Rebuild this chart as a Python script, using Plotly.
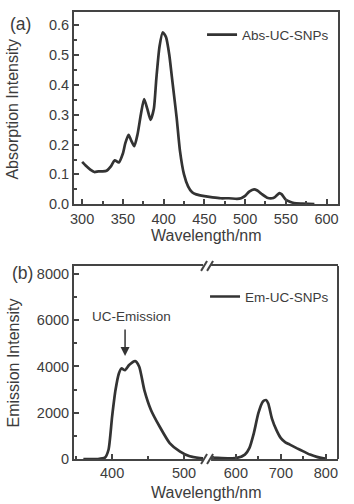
import plotly.graph_objects as go

# ---- Data: panel (a) absorption ----
abs_wl = [300, 305, 310, 315, 320, 325, 330, 335, 340, 345, 350, 353, 357, 360, 364, 368,
          372, 376, 380, 384, 388, 391, 395, 399, 403, 407, 410, 413, 416, 420, 425, 430,
          435, 440, 450, 460, 470, 480, 490, 495, 500, 505, 511, 515, 520, 527, 533, 537,
          542, 545, 550, 555, 560, 570, 585]
abs_val = [0.142, 0.128, 0.116, 0.108, 0.110, 0.110, 0.112, 0.126, 0.147, 0.140, 0.170, 0.205,
           0.233, 0.215, 0.195, 0.235, 0.300, 0.353, 0.320, 0.283, 0.320, 0.420, 0.530, 0.577,
           0.560, 0.500, 0.430, 0.360, 0.290, 0.180, 0.100, 0.060, 0.040, 0.033, 0.027, 0.023,
           0.020, 0.020, 0.018, 0.020, 0.028, 0.042, 0.050, 0.046, 0.035, 0.022, 0.020, 0.025,
           0.037, 0.033, 0.015, 0.008, 0.004, 0.002, 0.000]

# ---- Data: panel (b) emission (broken x axis) ----
em_left_wl = [360, 380, 390, 395, 400, 404.7, 409.4, 413, 418, 423.6, 432, 437.7, 444.8,
              454, 466, 480, 494, 508, 522, 532]
em_left_val = [0, 0, 60, 400, 1835, 2980, 3700, 3915, 3840, 4060, 4230, 3990, 2980,
               2120, 1405, 690, 330, 115, 43, 20]
em_right_wl = [536, 560, 600, 620, 630, 640, 650, 660, 667, 672, 680, 690, 700, 710, 720,
               735, 750, 765, 780, 795, 800]
em_right_val = [60, 50, 40, 190, 470, 1120, 1980, 2480, 2550, 2400, 1760, 1260, 900, 720,
                620, 470, 330, 190, 90, 30, 20]

abs_x_ticks = [300, 350, 400, 450, 500, 550, 600]
abs_y_ticks = [0.0, 0.1, 0.2, 0.3, 0.4, 0.5, 0.6]
em_y_ticks = [0, 2000, 4000, 6000, 8000]
em_left_ticks = [400, 500]
em_right_ticks = [600, 700, 800]

TXT = "#3c3c3c"
AX = "#444444"
LINE = "#333333"
FONT = "Liberation Sans, Arial, sans-serif"

fig = go.Figure()
fig.add_trace(go.Scatter(x=abs_wl, y=abs_val, mode="lines", name="Abs-UC-SNPs",
                         line=dict(color=LINE, width=2.7, shape="spline", smoothing=0.6),
                         xaxis="x", yaxis="y", legend="legend"))
fig.add_trace(go.Scatter(x=em_left_wl, y=em_left_val, mode="lines", name="Em-UC-SNPs",
                         line=dict(color=LINE, width=2.7, shape="spline", smoothing=0.6),
                         xaxis="x2", yaxis="y2", legend="legend2"))
fig.add_trace(go.Scatter(x=em_right_wl, y=em_right_val, mode="lines", name="Em-UC-SNPs",
                         line=dict(color=LINE, width=2.7, shape="spline", smoothing=0.6),
                         xaxis="x3", yaxis="y2", showlegend=False))

common = dict(showline=True, linecolor=AX, linewidth=2, ticks="inside", ticklen=5,
              tickwidth=1.5, tickcolor=AX, showgrid=False, zeroline=False,
              tickfont=dict(family=FONT, size=14.5, color=TXT))

Y_A = [0.570, 1.0]
Y_B = [0.0, 0.432]
BRK = 0.504

fig.update_layout(
    width=354, height=504,
    margin=dict(l=74, r=16, t=10, b=45),
    paper_bgcolor="white", plot_bgcolor="white",
    font=dict(family=FONT, color=TXT),
    xaxis=dict(domain=[0, 1], anchor="y", range=[290, 614], tickvals=abs_x_ticks,
               mirror=True, minor=dict(ticks="inside", ticklen=3, tickwidth=1.5,
                                       tickcolor=AX, dtick=25, tick0=300), **common),
    yaxis=dict(domain=Y_A, anchor="x", range=[0, 0.645], tickvals=abs_y_ticks,
               tickformat=".1f", mirror=True,
               minor=dict(ticks="inside", ticklen=3, tickwidth=1.5, tickcolor=AX,
                          dtick=0.05, tick0=0), **common),
    xaxis2=dict(domain=[0, BRK], anchor="y2", range=[347, 532], tickvals=em_left_ticks,
                mirror=True, minor=dict(ticks="inside", ticklen=3, tickwidth=1.5,
                                        tickcolor=AX, dtick=50, tick0=400), **common),
    xaxis3=dict(domain=[BRK, 1], anchor="y2", range=[536, 827], tickvals=em_right_ticks,
                mirror=True, minor=dict(ticks="inside", ticklen=3, tickwidth=1.5,
                                        tickcolor=AX, dtick=50, tick0=600), **common),
    yaxis2=dict(domain=Y_B, anchor="x2", range=[0, 8350], tickvals=em_y_ticks,
                minor=dict(ticks="inside", ticklen=3, tickwidth=1.5, tickcolor=AX,
                           dtick=1000, tick0=0), **common),
    legend=dict(x=0.985, y=0.949, xanchor="right", yanchor="middle",
                bgcolor="rgba(0,0,0,0)", font=dict(family=FONT, size=13.5, color=TXT)),
    legend2=dict(x=0.985, y=0.363, xanchor="right", yanchor="middle",
                 bgcolor="rgba(0,0,0,0)", font=dict(family=FONT, size=13.5, color=TXT)),
)

px_x = 1 / 264.0
px_y = 1 / 449.0
shapes = [
    # right border of panel (b)
    dict(type="line", xref="paper", yref="paper", x0=1, x1=1, y0=Y_B[0], y1=Y_B[1],
         line=dict(color=AX, width=2)),
]
for yb in (Y_B[0], Y_B[1]):
    shapes.append(dict(type="rect", xref="paper", yref="paper",
                       x0=BRK - 4 * px_x, x1=BRK + 4 * px_x,
                       y0=yb - 3 * px_y, y1=yb + 3 * px_y,
                       fillcolor="white", line=dict(width=0)))
    for dx in (-3, 3):
        shapes.append(dict(type="line", xref="paper", yref="paper",
                           x0=BRK + (dx - 3) * px_x, x1=BRK + (dx + 3) * px_x,
                           y0=yb - 5 * px_y, y1=yb + 5 * px_y,
                           line=dict(color=AX, width=2)))
fig.update_layout(shapes=shapes)


def pa(text, xpx, ypx, size, angle=0):
    return dict(text=text, x=(xpx - 74) * px_x, y=(459 - ypx) * px_y, xref="paper",
                yref="paper", xanchor="center", yanchor="middle", textangle=angle,
                showarrow=False, font=dict(family=FONT, size=size, color=TXT))


ann = [
    pa("(a)", 20, 22, 17.5),
    pa("(b)", 22, 272, 17.5),
    pa("Absorption Intensity", 13, 107, 16, -90),
    pa("Emission Intensity", 13, 362, 16, -90),
    pa("Wavelength/nm", 206, 235, 16),
    pa("Wavelength/nm", 206, 493, 16),
    dict(text="UC-Emission", x=427, y=6150, xref="x2", yref="y2", showarrow=False,
         xanchor="center", yanchor="middle",
         font=dict(family=FONT, size=13.5, color=TXT)),
    dict(text="", x=418, y=4450, xref="x2", yref="y2", showarrow=True, arrowhead=2,
         arrowsize=1.2, arrowwidth=1.5, arrowcolor=LINE, ax=0, ay=-28),
]
fig.update_layout(annotations=ann)

fig.write_html("out.html", config={"displayModeBar": False},
               post_script="document.body.style.margin='0';")
